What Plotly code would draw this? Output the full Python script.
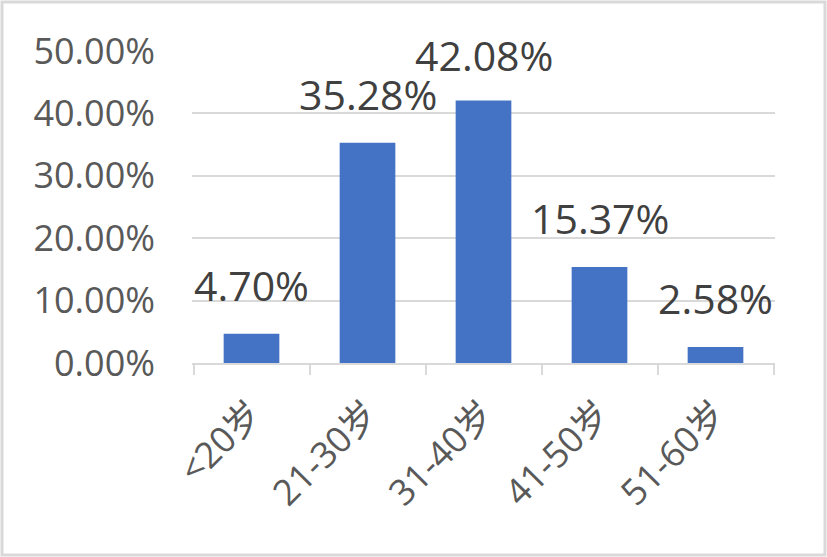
import plotly.graph_objects as go

categories = ["<20岁", "21-30岁", "31-40岁", "41-50岁", "51-60岁"]
values = [0.0470, 0.3528, 0.4208, 0.1537, 0.0258]
label_texts = ["4.70%", "35.28%", "42.08%", "15.37%", "2.58%"]
y_ticks = [0, 0.1, 0.2, 0.3, 0.4, 0.5]

W, H = 827, 557
ml, mr, mt, mb = 192, 52, 51, 194
pw, ph = W - ml - mr, H - mt - mb
y_max = 0.5

font_family = "Open Sans, Noto Sans CJK SC, sans-serif"

fig = go.Figure()
fig.add_trace(go.Bar(
    x=categories, y=values,
    marker=dict(color="#4472C4", line=dict(width=0)),
    width=0.48,
    hoverinfo="skip",
))

for c, v, t in zip(categories, values, label_texts):
    # keep labels inside the plot area (like Excel), otherwise sit above bar
    bar_top_px = mt + (1 - v / y_max) * ph
    shift = min(19, bar_top_px - 85)
    fig.add_annotation(
        x=c, y=v, text=t, showarrow=False,
        xanchor="center", yanchor="bottom", yshift=shift,
        font=dict(family=font_family, size=41, color="#404040"),
    )

# chart border
fig.add_shape(
    type="rect", xref="paper", yref="paper",
    x0=(2 - ml) / pw, x1=(825 - ml) / pw,
    y0=(H - 555 - mb) / ph, y1=(H - 2 - mb) / ph,
    line=dict(color="#d9d9d9", width=3), layer="below",
)

fig.update_layout(
    width=W, height=H,
    margin=dict(l=ml, r=mr, t=mt, b=mb),
    paper_bgcolor="white", plot_bgcolor="white",
    showlegend=False,
    bargap=0.52,
    font=dict(family=font_family),
    xaxis=dict(
        tickangle=-45,
        tickfont=dict(family=font_family, size=36, color="#595959"),
        showline=True, linecolor="#d9d9d9", linewidth=2,
        ticks="outside", tickson="boundaries", ticklen=10,
        tickcolor="#d9d9d9", tickwidth=2,
        showgrid=False,
        ticklabelstandoff=13,
    ),
    yaxis=dict(
        range=[0, y_max],
        tickvals=y_ticks,
        tickformat=".2%",
        tickfont=dict(family=font_family, size=36, color="#595959"),
        showgrid=True, gridcolor="#d9d9d9", gridwidth=1.5,
        zeroline=False, showline=False, ticks="",
        ticklabelstandoff=36,
    ),
)

fig.write_html(
    "out.html",
    config={"displayModeBar": False},
    post_script="document.body.style.margin='0';document.body.style.overflow='hidden';",
)
